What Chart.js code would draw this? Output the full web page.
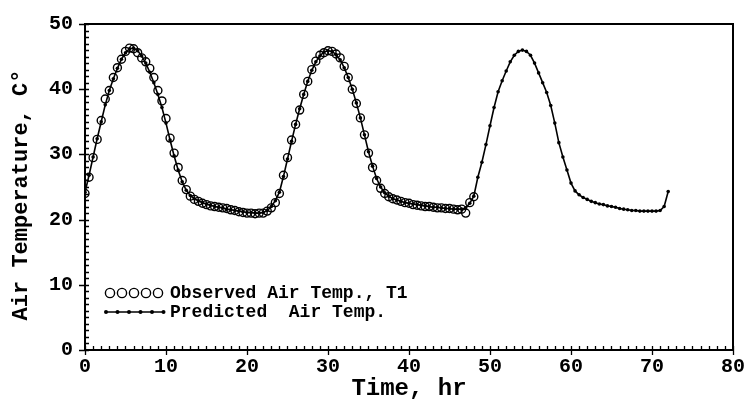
<!DOCTYPE html>
<html>
<head>
<meta charset="utf-8">
<script src="https://cdn.jsdelivr.net/npm/chart.js@4"></script>
<style>
html,body{margin:0;padding:0;background:#fff;}
#wrap{width:750px;height:403px;}
</style>
</head>
<body>
<div id="wrap"><canvas id="c" width="750" height="403"></canvas></div>
<script>
// ---- Data ----
const xTicks = [0, 10, 20, 30, 40, 50, 60, 70, 80];
const yTicks = [0, 10, 20, 30, 40, 50];

const obsTime = [0,0.5,1,1.5,2,2.5,3,3.5,4,4.5,5,5.5,6,6.5,7,7.5,8,8.5,9,9.5,10,10.5,11,11.5,12,12.5,13,13.5,14,14.5,15,15.5,16,16.5,17,17.5,18,18.5,19,19.5,20,20.5,21,21.5,22,22.5,23,23.5,24,
  24.5,25,25.5,26,26.5,27,27.5,28,28.5,29,29.5,30,30.5,31,31.5,32,32.5,33,33.5,34,34.5,35,35.5,36,36.5,37,37.5,38,38.5,39,39.5,40,40.5,41,41.5,42,42.5,43,43.5,44,44.5,45,45.5,46,46.5,47,47.5,48];
const obsTemp = [24.0,26.5,29.5,32.3,35.2,38.5,39.8,41.8,43.3,44.6,45.8,46.3,46.2,45.6,44.8,44.2,43.2,41.8,39.8,38.2,35.5,32.5,30.2,28.0,26.0,24.6,23.6,23.1,22.8,22.5,22.3,22.1,22.0,21.9,21.8,21.7,21.5,21.4,21.2,21.1,21.0,21.0,20.9,21.0,21.0,21.3,21.8,22.6,24.0,
  26.8,29.5,32.2,34.6,36.8,39.2,41.2,43.0,44.3,45.2,45.6,45.9,45.8,45.4,44.8,43.5,41.8,40.0,37.8,35.6,33.0,30.2,28.0,26.0,24.8,24.0,23.5,23.2,23.0,22.8,22.6,22.5,22.3,22.2,22.1,22.0,22.0,21.9,21.8,21.8,21.7,21.7,21.6,21.5,21.6,21.0,22.6,23.5];

const predTime = [0,0.5,1,1.5,2,2.5,3,3.5,4,4.5,5,5.5,6,6.5,7,7.5,8,8.5,9,9.5,10,10.5,11,11.5,12,12.5,13,13.5,14,14.5,15,15.5,16,16.5,17,17.5,18,18.5,19,19.5,20,20.5,21,21.5,22,22.5,23,23.5,24,
  24.5,25,25.5,26,26.5,27,27.5,28,28.5,29,29.5,30,30.5,31,31.5,32,32.5,33,33.5,34,34.5,35,35.5,36,36.5,37,37.5,38,38.5,39,39.5,40,40.5,41,41.5,42,42.5,43,43.5,44,44.5,45,45.5,46,46.5,47,47.5,48,
  48.5,49,49.5,50,50.5,51,51.5,52,52.5,53,53.5,54,54.5,55,55.5,56,56.5,57,57.5,58,58.5,59,59.5,60,60.5,61,61.5,62,62.5,63,63.5,64,64.5,65,65.5,66,66.5,67,67.5,68,68.5,69,69.5,70,70.5,71,71.5,72];
const predTemp = [24.2,26.8,29.6,32.4,35.0,37.6,39.8,41.6,43.2,44.6,45.6,46.2,46.3,45.9,45.1,44.0,42.6,41.0,39.2,37.2,34.8,32.2,29.8,27.6,25.8,24.5,23.7,23.2,22.9,22.6,22.4,22.2,22.0,21.9,21.8,21.6,21.5,21.4,21.3,21.2,21.1,21.1,21.0,21.0,21.1,21.4,22.0,22.9,24.2,
  26.6,29.3,32.0,34.6,37.0,39.2,41.2,42.9,44.2,45.1,45.7,45.9,45.8,45.3,44.5,43.3,41.8,40.0,37.9,35.6,33.0,30.4,28.2,26.3,25.0,24.1,23.6,23.2,23.0,22.8,22.6,22.5,22.4,22.3,22.2,22.1,22.0,21.9,21.9,21.8,21.7,21.7,21.6,21.6,21.6,21.8,22.5,23.6,
  26.5,28.8,31.5,34.4,37.2,39.6,41.3,42.8,44.2,45.2,45.8,46.0,45.8,45.2,44.0,42.5,41.0,39.5,37.5,34.8,31.8,29.6,27.6,25.6,24.4,23.8,23.4,23.1,22.8,22.6,22.4,22.3,22.1,22.0,21.9,21.7,21.6,21.5,21.4,21.4,21.3,21.3,21.3,21.3,21.3,21.4,22.0,24.3];

const legendLabels = ["Observed Air Temp., T1", "Predicted  Air Temp."];
const yTitle = "Air Temperature, C°";
const xTitle = "Time, hr";

// ---- Build chart ----
const obsPts = obsTime.map((t, i) => ({x: t, y: obsTemp[i]}));
const predPts = predTime.map((t, i) => ({x: t, y: predTemp[i]}));

const MONO = '"Liberation Mono", "DejaVu Sans Mono", monospace';

const framePlugin = {
  id: 'frame',
  afterDraw(chart) {
    const ctx = chart.ctx;
    const a = chart.chartArea;
    const xs = chart.scales.x, ys = chart.scales.y;
    ctx.save();
    ctx.strokeStyle = '#000';
    ctx.lineWidth = 2;
    ctx.strokeRect(a.left, a.top, a.right - a.left, a.bottom - a.top);
    ctx.lineWidth = 1.3;
    ctx.beginPath();
    for (let t = 0; t <= 80; t++) {
      const px = Math.round(xs.getPixelForValue(t)) + 0.5;
      const major = t % 10 === 0;
      ctx.moveTo(px, a.bottom + (major ? 5 : 0));
      ctx.lineTo(px, a.bottom - 4);
    }
    for (let v = 0; v <= 50; v++) {
      const py = Math.round(ys.getPixelForValue(v)) + 0.5;
      const major = v % 10 === 0;
      ctx.moveTo(a.left - (major ? 6 : 0), py);
      ctx.lineTo(a.left + 4, py);
    }
    ctx.stroke();

    // legend
    const y1 = 293, y2 = 312;
    ctx.lineWidth = 1.4;
    for (let i = 0; i < 5; i++) {
      ctx.beginPath();
      ctx.arc(110 + i * 12, y1, 4.6, 0, Math.PI * 2);
      ctx.stroke();
    }
    ctx.beginPath();
    ctx.moveTo(105, y2); ctx.lineTo(164, y2);
    ctx.lineWidth = 1.5;
    ctx.stroke();
    ctx.fillStyle = '#000';
    for (let i = 0; i < 6; i++) {
      ctx.beginPath();
      ctx.arc(106 + i * 11.5, y2, 2, 0, Math.PI * 2);
      ctx.fill();
    }
    ctx.font = 'bold 18px ' + MONO;
    ctx.textBaseline = 'middle';
    ctx.textAlign = 'left';
    ctx.fillText(legendLabels[0], 170, y1);
    ctx.fillText(legendLabels[1], 170, y2);

    // y axis title
    ctx.save();
    ctx.translate(21, 195);
    ctx.rotate(-Math.PI / 2);
    ctx.textAlign = 'center';
    ctx.textBaseline = 'middle';
    ctx.font = 'bold 22px ' + MONO;
    ctx.fillText(yTitle, 0, 0);
    ctx.restore();
    ctx.restore();
  }
};

new Chart(document.getElementById('c'), {
  type: 'scatter',
  data: {
    datasets: [
      {
        label: legendLabels[0],
        data: obsPts,
        showLine: false,
        pointStyle: 'circle',
        pointRadius: 4,
        pointBorderWidth: 1.4,
        pointBorderColor: '#000',
        pointBackgroundColor: 'rgba(0,0,0,0)',
        order: 2
      },
      {
        label: legendLabels[1],
        data: predPts,
        showLine: true,
        borderColor: '#000',
        borderWidth: 1.6,
        pointRadius: 1.8,
        pointBorderWidth: 0,
        pointBackgroundColor: '#000',
        tension: 0,
        order: 1
      }
    ]
  },
  options: {
    responsive: false,
    animation: false,
    devicePixelRatio: 1,
    layout: { padding: { top: 15, right: 14, left: 0, bottom: 0 } },
    plugins: { legend: { display: false }, tooltip: { enabled: false } },
    scales: {
      x: {
        type: 'linear', min: 0, max: 80,
        afterFit(s) { s.height = 53; },
        afterBuildTicks(s) { s.ticks = xTicks.map(v => ({value: v})); },
        grid: { display: false, drawTicks: false },
        border: { display: false },
        ticks: { color: '#000', padding: 5, font: { family: MONO, size: 20, weight: 'bold' }, maxRotation: 0 },
        title: { display: true, text: xTitle, color: '#000', padding: { top: 0, bottom: 0 }, font: { family: MONO, size: 24, weight: 'bold' } }
      },
      y: {
        type: 'linear', min: 0, max: 50,
        afterFit(s) { s.width = 85; },
        afterBuildTicks(s) { s.ticks = yTicks.map(v => ({value: v})); },
        grid: { display: false, drawTicks: false },
        border: { display: false },
        ticks: { color: '#000', padding: 12, font: { family: MONO, size: 20, weight: 'bold' } },
        title: { display: false }
      }
    }
  },
  plugins: [framePlugin]
});
</script>
</body>
</html>
